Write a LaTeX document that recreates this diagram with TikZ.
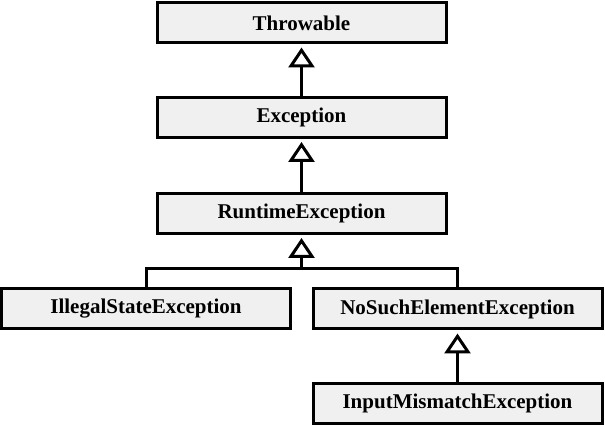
\documentclass[tikz,border=0pt]{standalone}
\usepackage{fontspec}
\setmainfont{Liberation Serif}
\usetikzlibrary{arrows.meta}
\begin{document}
\begin{tikzpicture}[x=1pt,y=1pt,
  cls/.style={draw=black, line width=3pt, fill=boxgray, minimum width=289pt, minimum height=40pt, inner sep=0pt,
    font=\fontsize{21}{24}\selectfont\bfseries},
  inherit/.style={line width=3pt, -{Triangle[open, length=20pt, width=26pt, line width=3pt]}, shorten >=3pt},
  conn/.style={line width=3pt}]
\definecolor{boxgray}{HTML}{F0F0F0}
\useasboundingbox (0,0) rectangle (605,-427);
\node[cls] (thr) at (301.5,-23) {Throwable};
\node[cls] (exc) at (301.5,-117.5) {Exception};
\node[cls] (rte) at (301.5,-213.5) {RuntimeException};
\node[cls] (ise) at (146,-308.5) {IllegalStateException};
\node[cls] (nse) at (457.5,-309) {NoSuchElementException};
\node[cls] (ime) at (457.5,-403.5) {InputMismatchException};
\coordinate (j) at (301.5,-269);
\draw[inherit] (exc.north) -- (thr.south);
\draw[inherit] (rte.north) -- (exc.south);
\draw[inherit] (j) -- (rte.south);
\draw[conn] (ise.north) |- (j) -| (nse.north);
\draw[inherit] (ime.north) -- (nse.south);
\end{tikzpicture}
\end{document}
